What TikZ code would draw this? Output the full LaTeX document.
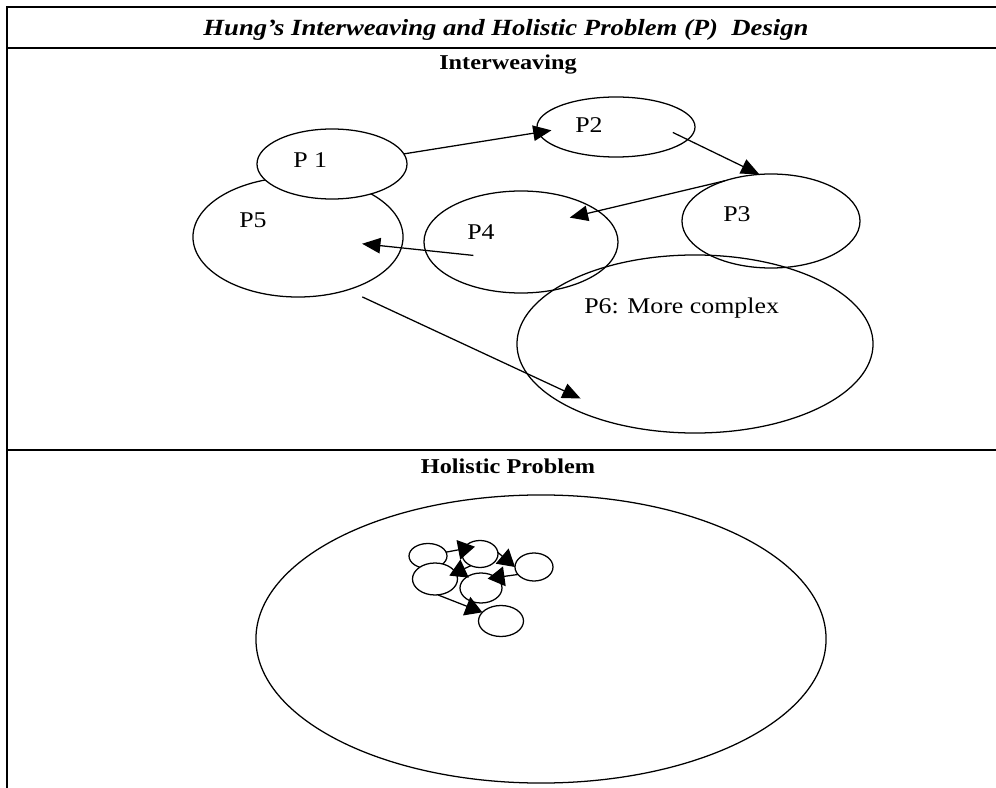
\documentclass[tikz,border=0pt]{standalone}
\usepackage{fontspec}
\setmainfont{Liberation Serif}[FakeStretch=1.15]
\usepackage{tikz}
\usetikzlibrary{arrows.meta,shapes.geometric}
\tikzstyle{frame} = [line width=1.5pt]
\tikzstyle{prob} = [ellipse, draw, line width=0.9pt, inner sep=0pt, outer sep=0pt]
\tikzstyle{sub} = [prob, fill=white]
\tikzstyle{arrow} = [line width=0.9pt, -{Triangle[length=13pt,width=11pt]}]
\tikzstyle{small arrow} = [line width=0.9pt, -{Triangle[length=12pt,width=14pt]}]
\tikzstyle{title} = [anchor=base, inner sep=0pt, font=\bfseries\itshape\fontsize{16.5}{20}\selectfont]
\tikzstyle{heading} = [anchor=base, inner sep=0pt, font=\bfseries\fontsize{15}{18}\selectfont]
\tikzstyle{plabel} = [anchor=base west, inner sep=0pt, font=\fontsize{16}{19}\selectfont]

\begin{document}
\begin{tikzpicture}[x=0.025cm, y=-0.025cm]
\useasboundingbox (0,0) rectangle (996,788);
% table lines
\draw[frame] (996,7) -- (7,7) -- (7,788);
\draw[frame] (7,48) -- (996,48);
\draw[frame] (7,450) -- (996,450);
\node[title] (title) at (506,36) {Hung's Interweaving and Holistic Problem (P)~ Design};

% Interweaving
\node[heading] (interweaving) at (508,70) {Interweaving};
\node[prob, minimum width=3.95cm, minimum height=1.5cm] (p2) at (616,127) {};
\node[prob, minimum width=4.45cm, minimum height=2.35cm] (p3) at (771,221) {};
\node[prob, minimum width=4.85cm, minimum height=2.55cm] (p4) at (521,242) {};
\node[prob, minimum width=8.9cm, minimum height=4.45cm] (p6) at (695,344) {};
\node[prob, minimum width=5.25cm, minimum height=3cm] (p5) at (298,237) {};
\node[sub, minimum width=3.75cm, minimum height=1.75cm] (p1) at (332,164) {};
\node[plabel] (lbl1) at (293,168) {P 1};
\node[plabel] (lbl2) at (575,133) {P2};
\node[plabel] (lbl3) at (723,222) {P3};
\node[plabel] (lbl4) at (467,240) {P4};
\node[plabel] (lbl5) at (239,228) {P5};
\node[plabel] (lbl6) at (584,314) {P6: More complex};
\draw[arrow, shorten >=-9.5pt] (p1.8) -- (p2.184);
\draw[arrow, shorten <=-11.7pt] (p2.-10) -- (p3.104);
\draw[arrow, shorten >=-20.6pt] (p3.139) -- (p4.22);
\draw[arrow, shorten <=-34.4pt, shorten >=-28pt] (p4.185) -- (p5.-6);
\draw[arrow, shorten <=11.7pt, shorten >=-42pt] (p5.-47) -- (p6.190);

% Holistic problem
\node[heading] (holistic) at (508,473) {Holistic Problem};
\node[prob, minimum width=14.25cm, minimum height=7.2cm] (whole) at (541,639) {};
\node[sub, minimum width=0.95cm, minimum height=0.625cm] (c1) at (428,556) {};
\node[sub, minimum width=0.9cm, minimum height=0.675cm] (c2) at (480,554) {};
\node[sub, minimum width=0.95cm, minimum height=0.7cm] (c3) at (534,567) {};
\node[sub, minimum width=1.125cm, minimum height=0.8cm] (c4) at (435,579) {};
\node[sub, minimum width=1.05cm, minimum height=0.75cm] (c5) at (481,588) {};
\node[sub, minimum width=1.125cm, minimum height=0.775cm] (c6) at (501,621) {};
\draw[small arrow, shorten >=-8.4pt] (c1.12) -- (c2.163);
\draw[small arrow] (c2.5) -- (c3.west);
\draw[small arrow, shorten >=-6pt] (c3.205) -- (c5.35);
\draw[small arrow, shorten >=-5pt] (c2.232) -- (c4.17);
\draw[small arrow] (c4.-80) -- (c6.155);
\end{tikzpicture}
\end{document}
